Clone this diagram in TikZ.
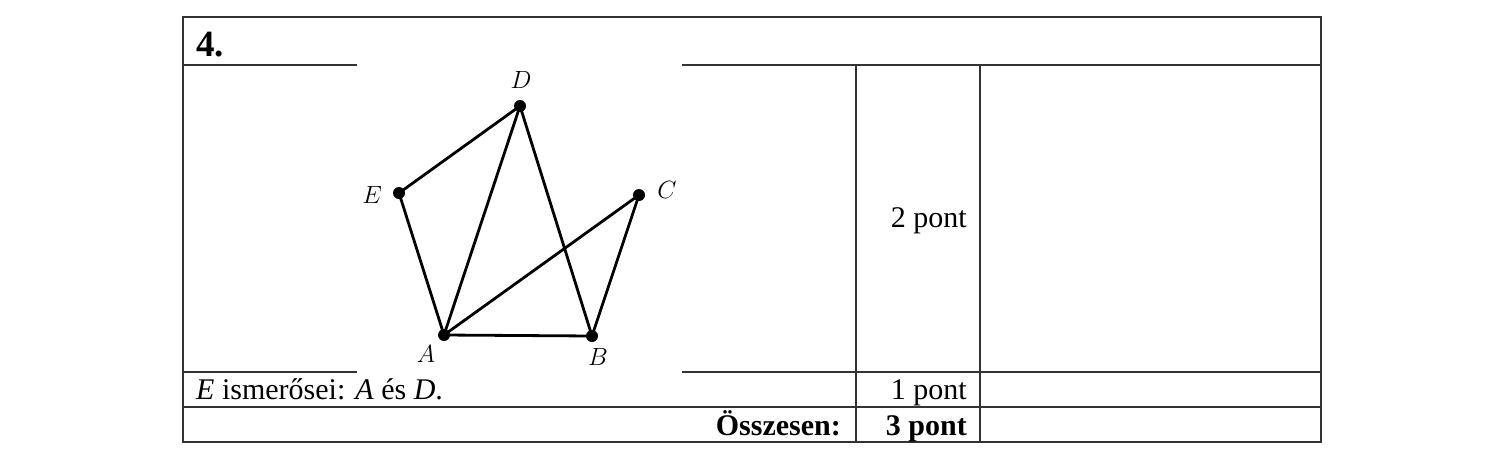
\documentclass[tikz,border=0pt]{standalone}
\usepackage{fontspec}
\setmainfont{Liberation Serif}
\begin{document}
\begin{tikzpicture}[x=1pt,y=-1pt,
  tbl/.style={line width=1.4pt, draw=black!80},
  dot/.style={circle, fill=black, inner sep=0pt, minimum size=12pt},
  edge/.style={line width=2.8pt, black},
  lab/.style={inner sep=0pt, font=\fontsize{25}{29}\selectfont},
  txt/.style={inner sep=0pt, font=\fontsize{30}{34}\selectfont},
  btxt/.style={inner sep=0pt, font=\bfseries\fontsize{30}{34}\selectfont}]
\useasboundingbox (0,0) rectangle (1489,464);
% table
\draw[tbl] (183,17) rectangle (1321,442);
\draw[tbl] (183,65) -- (1321,65);
\draw[tbl] (183,372) -- (1321,372);
\draw[tbl] (183,407) -- (1321,407);
\draw[tbl] (856,65) -- (856,442);
\draw[tbl] (980,65) -- (980,442);
% white image patch
\fill[white] (357,62) rectangle (682,375);
% graph
\node[dot] (D) at (520,106) {};
\node[dot] (E) at (399,193) {};
\node[dot] (C) at (639,195) {};
\node[dot] (A) at (444,335) {};
\node[dot] (B) at (592,336) {};
\draw[edge] (E.center) -- (D.center);
\draw[edge] (D.center) -- (A.center);
\draw[edge] (D.center) -- (B.center);
\draw[edge] (E.center) -- (A.center);
\draw[edge] (A.center) -- (B.center);
\draw[edge] (A.center) -- (C.center);
\draw[edge] (C.center) -- (B.center);
\node[lab] (lD) at (521,80) {$D$};
\node[lab] (lE) at (372,195) {$E$};
\node[lab] (lC) at (667,190) {$C$};
\node[lab] (lA) at (426,354) {$A$};
\node[lab] (lB) at (598,357) {$B$};
% texts
\node[anchor=base west, inner sep=0pt, font=\bfseries\fontsize{37}{40}\selectfont] (title) at (196,56) {4.};
\node[anchor=base east, txt] (p2) at (967,227) {2 pont};
\node[anchor=base west, txt] (isme) at (196,399) {\textit{E} ismerősei: \textit{A} és \textit{D}.};
\node[anchor=base east, txt] (p1) at (967,399) {1 pont};
\node[anchor=base east, btxt] (ossz) at (841,435) {Összesen:};
\node[anchor=base east, btxt] (p3) at (967,435) {3 pont};
\end{tikzpicture}
\end{document}
